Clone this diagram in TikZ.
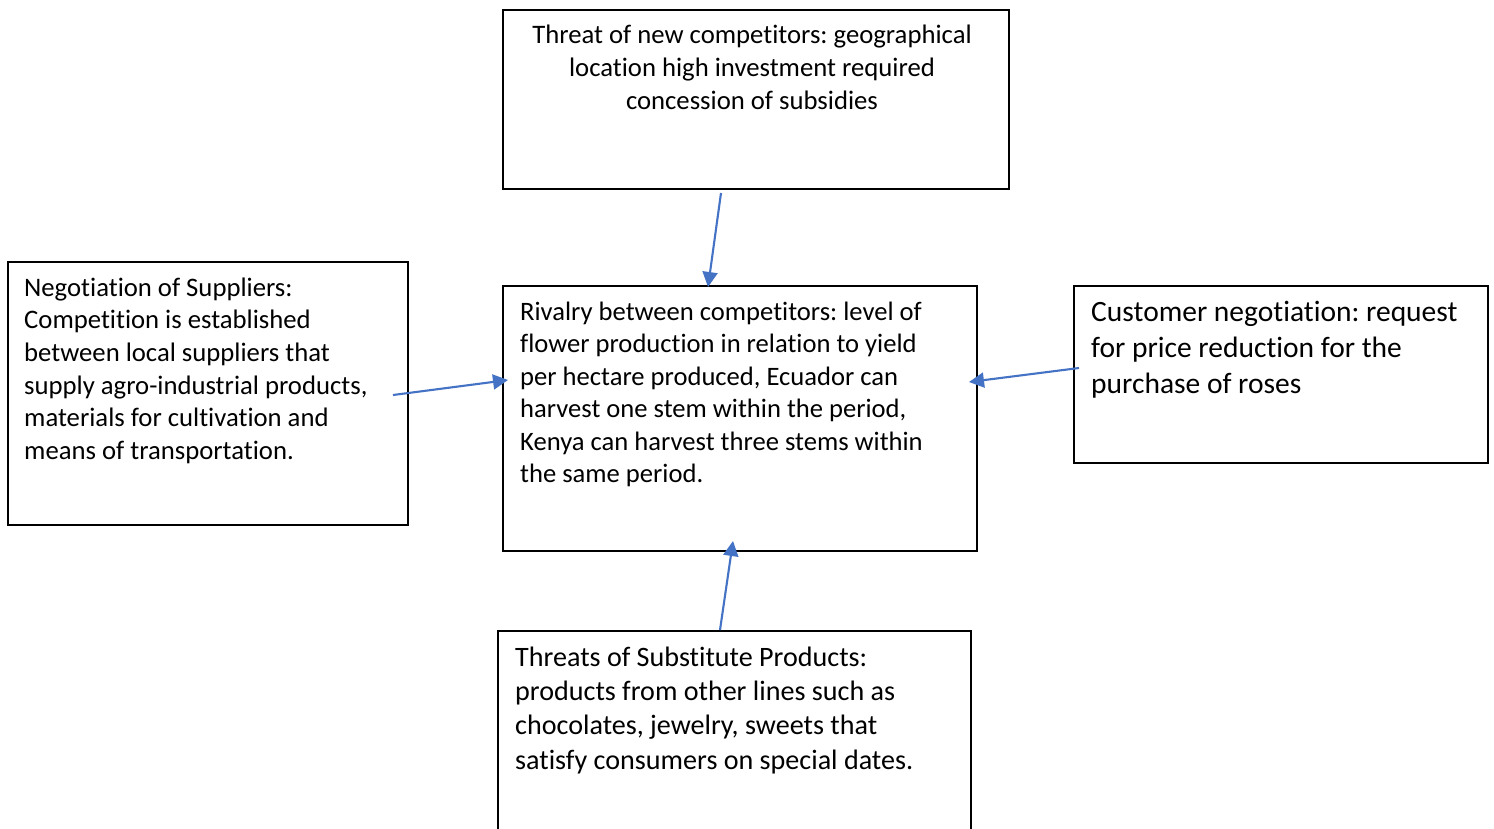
\documentclass[tikz,border=0pt]{standalone}
\usepackage{fontspec}
\setmainfont{Carlito}[Ligatures=CommonOff]
\frenchspacing
\usetikzlibrary{arrows.meta}
\definecolor{arrowblue}{HTML}{4472C4}
\begin{document}
\frenchspacing
\begin{tikzpicture}[x=1pt,y=-1pt,
  box/.style={draw=black,line width=1.6pt,inner sep=0pt,anchor=north west},
  txt/.style={inner sep=0pt,align=left,anchor=north west},
  arr/.style={draw=arrowblue,line width=2.1pt,-{Triangle[length=15pt,width=15pt]}}]
\useasboundingbox (0,0) rectangle (1494,828);
\clip (0,0) rectangle (1494,828);
\fill[white] (0,0) rectangle (1494,828);
% boxes
\node[box,minimum width=506pt,minimum height=179pt] (topbox) at (502,9) {};
\node[box,minimum width=474pt,minimum height=265pt] (midbox) at (502,285) {};
\node[box,minimum width=400pt,minimum height=263pt] (leftbox) at (7,261) {};
\node[box,minimum width=414pt,minimum height=177pt] (rightbox) at (1073,285) {};
\node[box,minimum width=473pt,minimum height=260pt] (botbox) at (497,630) {};
% texts
\node[inner sep=0pt,align=center,anchor=north,font=\fontsize{26.7}{33}\selectfont] (toptxt) at (752,19.9)
 {\strut Threat of new competitors: geographical\\location high investment required\\concession of subsidies};
\node[txt,font=\fontsize{26.6}{32.5}\selectfont] (midtxt) at (520,297.2)
 {\strut Rivalry between competitors: level of\\flower production in relation to yield\\per hectare produced, Ecuador can\\harvest one stem within the period,\\Kenya can harvest three stems within\\the same period.};
\node[txt,font=\fontsize{26.7}{32.6}\selectfont] (lefttxt) at (24,273.2)
 {\strut Negotiation of Suppliers:\\Competition is established\\between local suppliers that\\supply agro-industrial products,\\materials for cultivation and\\means of transportation.};
\node[txt,font=\fontsize{29.5}{36}\selectfont] (righttxt) at (1091,295.8)
 {\strut Customer negotiation: request\\for price reduction for the\\purchase of roses};
\node[txt,font=\fontsize{28.1}{34.3}\selectfont] (bottxt) at (515,642)
 {\strut Threats of Substitute Products:\\products from other lines such as\\chocolates, jewelry, sweets that\\satisfy consumers on special dates.};
% arrow end points
\coordinate (a1s) at (721,193);
\coordinate (a1e) at (708,287);
\coordinate (a2s) at (393,395);
\coordinate (a2e) at (508,380);
\coordinate (a3s) at (1079,368);
\coordinate (a3e) at (969,382);
\coordinate (a4s) at (720,630);
\coordinate (a4e) at (733,541);
\draw[arr] (a1s) -- (a1e);
\draw[arr] (a2s) -- (a2e);
\draw[arr] (a3s) -- (a3e);
\draw[arr] (a4s) -- (a4e);
\end{tikzpicture}
\end{document}
